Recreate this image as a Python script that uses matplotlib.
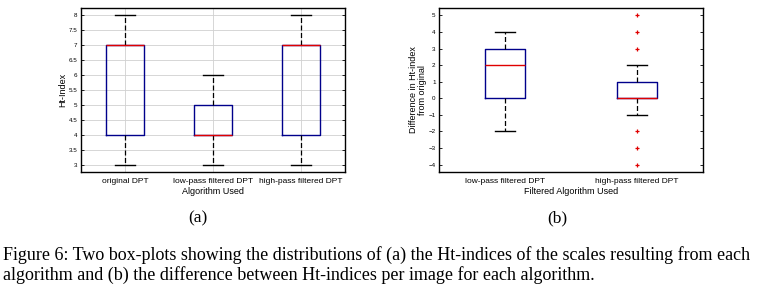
import matplotlib
matplotlib.use('Agg')
import matplotlib.pyplot as plt

# (a) Ht-index per algorithm
algs_a = ['original DPT', 'low-pass filtered DPT', 'high-pass filtered DPT']
q1_a = [4, 4, 4]
med_a = [7, 4, 7]
q3_a = [7, 5, 7]
lo_a = [3, 3, 3]
hi_a = [8, 6, 8]

# (b) difference from original
algs_b = ['low-pass filtered DPT', 'high-pass filtered DPT']
q1_b = [0, 0]
med_b = [2, 0]
q3_b = [3, 1]
lo_b = [-2, -1]
hi_b = [4, 2]
fliers_b = [[], [5, 4, 3, -2, -3, -4]]

caption = ("Figure 6: Two box-plots showing the distributions of (a) the Ht-indices of the scales resulting from each\n"
           "algorithm and (b) the difference between Ht-indices per image for each algorithm.")

plt.rcParams['font.family'] = ['Liberation Sans', 'DejaVu Sans']


def make_stats(q1, med, q3, lo, hi, fl=None):
    out = []
    for i in range(len(q1)):
        out.append(dict(q1=q1[i], med=med[i], q3=q3[i], whislo=lo[i], whishi=hi[i],
                        fliers=(fl[i] if fl else [])))
    return out


def style(ax):
    ax.tick_params(direction='in', top=True, right=True, labelsize=4.5, length=2.5, width=0.6, pad=2.5)
    ax.tick_params(axis='x', labelsize=6, length=0, pad=4)
    for s in ax.spines.values():
        s.set_linewidth(1.0)


box_kw = dict(
    boxprops=dict(color='#00008b', linewidth=1.0),
    medianprops=dict(color='#e00000', linewidth=1.0),
    whiskerprops=dict(color='black', linestyle=(0, (4, 2)), linewidth=0.9),
    capprops=dict(color='black', linewidth=1.0),
    flierprops=dict(marker='+', markeredgecolor='#e00000', markersize=3.5, markeredgewidth=0.9, linestyle='none'),
)

fig = plt.figure(figsize=(7.65, 2.91), dpi=100)

ax1 = fig.add_axes([81/765, 1-172/291, 264/765, 164/291])
ax1.bxp(make_stats(q1_a, med_a, q3_a, lo_a, hi_a), positions=[1, 2, 3], widths=0.44,
        showfliers=False, **box_kw)
ax1.set_xlim(0.5, 3.5)
ax1.set_ylim(2.75, 8.25)
ax1.set_yticks([3, 3.5, 4, 4.5, 5, 5.5, 6, 6.5, 7, 7.5, 8])
ax1.set_yticklabels(['3', '3.5', '4', '4.5', '5', '5.5', '6', '6.5', '7', '7.5', '8'])
ax1.set_xticks([1, 2, 3])
ax1.set_xticklabels(algs_a)
ax1.grid(True, color='#d0d0d0', linewidth=0.6)
ax1.set_axisbelow(True)
ax1.set_ylabel('Ht-Index', fontsize=6.5, labelpad=1)
ax1.set_xlabel('Algorithm Used', fontsize=6.5, labelpad=2)
style(ax1)

ax2 = fig.add_axes([439/765, 1-172/291, 264/765, 164/291])
ax2.bxp(make_stats(q1_b, med_b, q3_b, lo_b, hi_b, fliers_b), positions=[1, 2], widths=0.3,
        showfliers=True, **box_kw)
ax2.set_xlim(0.5, 2.5)
ax2.set_ylim(-4.45, 5.45)
ax2.set_yticks(range(-4, 6))
ax2.set_xticks([1, 2])
ax2.set_xticklabels(algs_b)
ax2.set_ylabel('Difference in Ht-index\nfrom original', fontsize=6.5, labelpad=1, linespacing=1.0)
ax2.set_xlabel('Filtered Algorithm Used', fontsize=6.5, labelpad=2)
style(ax2)

fig.text(198/765, 1-218/291, '(a)', fontsize=12.5, family='Liberation Serif', ha='center', va='center')
fig.text(557/765, 1-218/291, '(b)', fontsize=12.5, family='Liberation Serif', ha='center', va='center')
fig.text(3/765, 1-265/291, caption, fontsize=13, family='Liberation Serif', ha='left', va='center',
         linespacing=1.1)

fig.savefig('out.png', dpi=100)
